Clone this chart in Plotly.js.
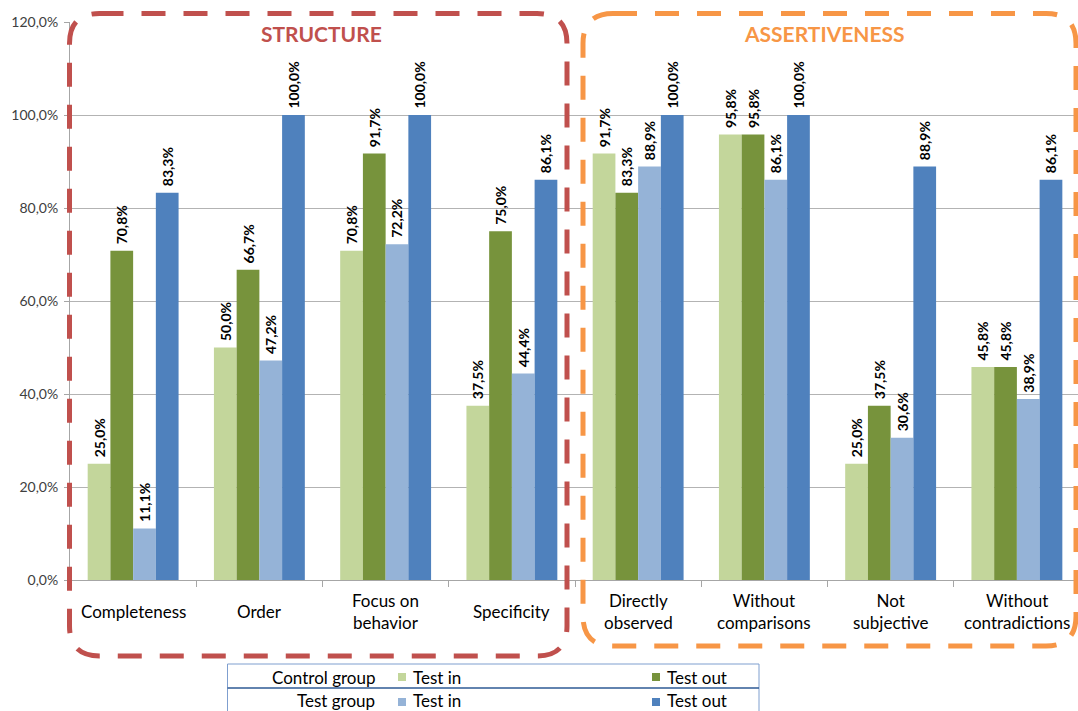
<!DOCTYPE html>
<html>
<head>
<meta charset="utf-8">
<script src="https://cdn.plot.ly/plotly-3.0.1.min.js"></script>
<style>html,body{margin:0;padding:0;background:#fff;}#chart{width:1078px;height:711px;}</style>
</head>
<body>
<div id="chart"></div>
<script>
const categories = ["Completeness", "Order", "Focus on<br>behavior", "Specificity", "Directly<br>observed", "Without<br>comparisons", "Not<br>subjective", "Without<br>contradictions"];
const controlIn  = [25.0, 50.0, 70.8, 37.5, 91.7, 95.8, 25.0, 45.8];
const controlOut = [70.8, 66.7, 91.7, 75.0, 83.3, 95.8, 37.5, 45.8];
const testIn     = [11.1, 47.2, 72.2, 44.4, 88.9, 86.1, 30.6, 38.9];
const testOut    = [83.3, 100.0, 100.0, 86.1, 100.0, 100.0, 88.9, 86.1];
const yTickVals  = [0, 20, 40, 60, 80, 100, 120];
const yTickText  = ["0,0%", "20,0%", "40,0%", "60,0%", "80,0%", "100,0%", "120,0%"];
const groupTitles = ["STRUCTURE", "ASSERTIVENESS"];
const legendRows = ["Control group", "Test group"];
const legendItems = ["Test in", "Test out"];

const colors = ["#c3d69b", "#77933c", "#95b3d7", "#4f81bd"];
const fmt = v => '\u00a0' + v.toFixed(1).replace('.', ',') + '%';
const FONT = 'Lato, "Open Sans", sans-serif';

const W = 1078, H = 711, ML = 70, MR = 0, MT = 22, MB = 131;
const PW = W - ML - MR, PH = H - MT - MB;
const xp = px => (px - ML) / PW;
const yp = py => (H - MB - py) / PH;

const series = [controlIn, controlOut, testIn, testOut];
const traces = series.map((vals, i) => ({
  type: 'bar',
  x: categories,
  y: vals,
  text: vals.map(fmt),
  textposition: 'outside',
  textangle: -90,
  constraintext: 'none',
  cliponaxis: false,
  textfont: {family: FONT, size: 14, color: '#000', weight: 'bold'},
  marker: {color: colors[i]},
  hoverinfo: 'y',
  showlegend: false
}));

function roundRect(x0, y0, x1, y1, r) {
  const rx = r / PW, ry = r / PH;
  const X0 = xp(x0), X1 = xp(x1), Y0 = yp(y0), Y1 = yp(y1);
  return `M ${X0 + rx} ${Y0} L ${X1 - rx} ${Y0} Q ${X1} ${Y0} ${X1} ${Y0 - ry} ` +
         `L ${X1} ${Y1 + ry} Q ${X1} ${Y1} ${X1 - rx} ${Y1} ` +
         `L ${X0 + rx} ${Y1} Q ${X0} ${Y1} ${X0} ${Y1 + ry} ` +
         `L ${X0} ${Y0 - ry} Q ${X0} ${Y0} ${X0 + rx} ${Y0} Z`;
}

const shapes = [
  {type: 'path', xref: 'paper', yref: 'paper', path: roundRect(69.5, 13.5, 567, 656, 30),
   line: {color: '#c0504d', width: 5, dash: '24px,18px'}},
  {type: 'path', xref: 'paper', yref: 'paper', path: roundRect(583, 13.5, 1076, 646, 30),
   line: {color: '#f79646', width: 5, dash: '24px,18px'}},
  {type: 'rect', xref: 'paper', yref: 'paper', x0: xp(227.5), x1: xp(759), y0: yp(664), y1: yp(720),
   line: {color: '#7f9fcf', width: 1}},
  {type: 'line', xref: 'paper', yref: 'paper', x0: xp(227.5), x1: xp(759), y0: yp(688), y1: yp(688),
   line: {color: '#2e5a94', width: 1.5}},
  {type: 'rect', xref: 'paper', yref: 'paper', x0: xp(398), x1: xp(406), y0: yp(673), y1: yp(681), fillcolor: colors[0], line: {width: 0}},
  {type: 'rect', xref: 'paper', yref: 'paper', x0: xp(652), x1: xp(660), y0: yp(673), y1: yp(681), fillcolor: colors[1], line: {width: 0}},
  {type: 'rect', xref: 'paper', yref: 'paper', x0: xp(398), x1: xp(406), y0: yp(698), y1: yp(706), fillcolor: colors[2], line: {width: 0}},
  {type: 'rect', xref: 'paper', yref: 'paper', x0: xp(652), x1: xp(660), y0: yp(698), y1: yp(706), fillcolor: colors[3], line: {width: 0}}
];

const legFont = {family: FONT, size: 17, color: '#000'};
const catFont = {family: FONT, size: 17, color: '#000'};
const annotations = [
  {xref: 'paper', yref: 'paper', x: xp(321), y: yp(34), text: '<b>' + groupTitles[0] + '</b>', showarrow: false,
   xanchor: 'center', yanchor: 'middle', font: {family: FONT, size: 21, color: '#c0504d'}},
  {xref: 'paper', yref: 'paper', x: xp(824), y: yp(34), text: '<b>' + groupTitles[1] + '</b>', showarrow: false,
   xanchor: 'center', yanchor: 'middle', font: {family: FONT, size: 21, color: '#f79646'}},
  {xref: 'paper', yref: 'paper', x: xp(377), y: yp(677), text: legendRows[0], showarrow: false, xanchor: 'right', yanchor: 'middle', font: legFont},
  {xref: 'paper', yref: 'paper', x: xp(377), y: yp(700), text: legendRows[1], showarrow: false, xanchor: 'right', yanchor: 'middle', font: legFont},
  {xref: 'paper', yref: 'paper', x: xp(411), y: yp(677), text: legendItems[0], showarrow: false, xanchor: 'left', yanchor: 'middle', font: legFont},
  {xref: 'paper', yref: 'paper', x: xp(665), y: yp(677), text: legendItems[1], showarrow: false, xanchor: 'left', yanchor: 'middle', font: legFont},
  {xref: 'paper', yref: 'paper', x: xp(411), y: yp(700), text: legendItems[0], showarrow: false, xanchor: 'left', yanchor: 'middle', font: legFont},
  {xref: 'paper', yref: 'paper', x: xp(665), y: yp(700), text: legendItems[1], showarrow: false, xanchor: 'left', yanchor: 'middle', font: legFont}
].concat(categories.map(c => ({
  xref: 'x', yref: 'paper', x: c, y: yp(611), text: c, showarrow: false,
  xanchor: 'center', yanchor: 'middle', align: 'center', font: catFont
})));

const layout = {
  width: W, height: H,
  margin: {l: ML, r: MR, t: MT, b: MB, pad: 0},
  paper_bgcolor: '#fff', plot_bgcolor: '#fff',
  barmode: 'group', bargap: 0.28, bargroupgap: 0,
  font: {family: FONT},
  xaxis: {
    type: 'category', range: [-0.5, 7.484],
    showline: true, linecolor: '#a6a6a6', linewidth: 1,
    ticks: 'outside', tickson: 'boundaries', ticklen: 6, tickcolor: '#a6a6a6',
    showticklabels: false,
    showgrid: false, fixedrange: true
  },
  yaxis: {
    range: [0, 120], tickvals: yTickVals, ticktext: yTickText,
    showline: true, linecolor: '#a6a6a6', linewidth: 1,
    ticks: 'outside', ticklen: 5, tickcolor: '#a6a6a6',
    showgrid: true, gridcolor: '#b3b3b3', gridwidth: 1,
    zeroline: false,
    tickfont: {family: FONT, size: 14, color: '#404040'},
    ticklabelstandoff: 3,
    fixedrange: true
  },
  shapes: shapes,
  annotations: annotations
};

Plotly.newPlot('chart', traces, layout, {displayModeBar: false, staticPlot: true});
</script>
</body>
</html>
